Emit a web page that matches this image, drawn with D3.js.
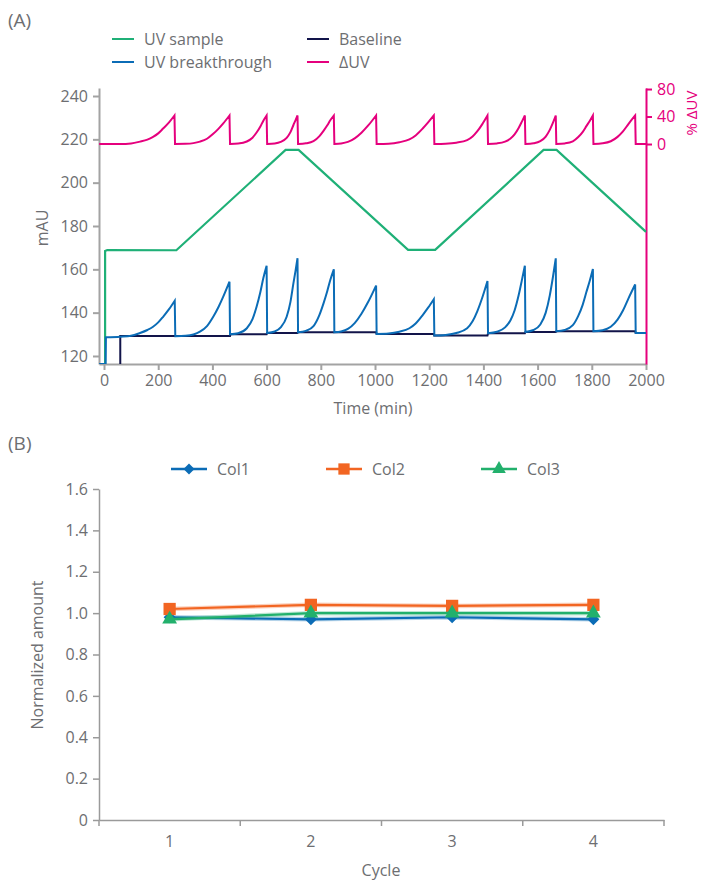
<!DOCTYPE html>
<html>
<head>
<meta charset="utf-8">
<title>UV breakthrough and normalized amount</title>
<script src="https://d3js.org/d3.v7.min.js"></script>
<style>
  body { margin: 0; background: #fff; }
  svg { display: block; font-family: "Open Sans", sans-serif; }
  .axis text { font-size: 16px; fill: #6d6e71; font-family: "Open Sans", sans-serif; }
  .axis path, .axis line { stroke: #a3a3a3; stroke-width: 2; }
  .axisB path, .axisB line { stroke: #9a9a9a; stroke-width: 1.5; }
  .lbl { font-size: 16px; fill: #6d6e71; }
</style>
</head>
<body>
<svg id="chart" width="702" height="880"></svg>
<script>
// ---- panel A data ----
const timeTicks = [0, 200, 400, 600, 800, 1000, 1200, 1400, 1600, 1800, 2000];
const mauTicks = [120, 140, 160, 180, 200, 220, 240];
const deltaTicks = [0, 40, 80];

// [time (min), mAU]
const uvSample = [[4, 116.3], [4, 168.5], [12, 168.9], [267, 168.8], [670, 215.1], [718, 215.1],
  [1122, 169.0], [1222, 169.0], [1622, 215.1], [1670, 215.1], [2000, 177.3]];

const baseline = [[60, 116.3], [60, 129.2], [465, 129.2], [467, 130.0], [600, 130.0], [602, 130.6],
  [714, 130.6], [716, 130.9], [1004, 130.9], [1006, 130.2], [1217, 130.2], [1219, 129.4],
  [1415, 129.4], [1417, 130.5], [1553, 130.5], [1555, 131.1], [1667, 131.1], [1669, 131.4],
  [1960, 131.4], [1962, 130.6], [2000, 130.6]];

// one list per loading cycle, the drop to the next cycle is a straight line
const uvBreakthrough = [
  [[-18, 116.3], [6, 116.3]],
  [[7, 128.6], [60, 128.9], [100, 129.3], [133, 130.6], [160, 132.0], [181, 133.5], [200, 135.5], [218, 138.1], [240, 141.6], [261, 145.5]],
  [[263, 129.1], [300, 129.3], [330, 129.9], [354, 131.2], [380, 133.8], [403, 138.1], [422, 142.5], [440, 147.4], [463, 154.3]],
  [[465, 130.0], [495, 130.5], [527, 132.8], [548, 137.0], [563, 142.7], [577, 149.5], [588, 156.0], [600, 161.6]],
  [[602, 130.6], [630, 131.3], [652, 133.2], [674, 138.1], [688, 145.0], [699, 153.6], [707, 159.5], [714, 165.1]],
  [[716, 130.9], [745, 131.6], [773, 133.8], [795, 139.0], [810, 144.3], [824, 150.0], [835, 155.1], [848, 160.0]],
  [[850, 130.9], [875, 131.3], [900, 132.5], [925, 135.2], [950, 139.5], [975, 145.0], [1004, 152.5]],
  [[1006, 130.2], [1050, 130.4], [1090, 131.2], [1127, 132.8], [1150, 135.0], [1176, 138.9], [1196, 142.3], [1217, 146.2]],
  [[1219, 129.4], [1260, 129.7], [1300, 130.6], [1340, 132.8], [1360, 136.0], [1377, 140.5], [1396, 147.0], [1415, 154.6]],
  [[1417, 130.5], [1450, 131.2], [1480, 133.2], [1500, 136.5], [1515, 141.0], [1530, 148.0], [1542, 155.0], [1553, 161.7]],
  [[1555, 131.1], [1585, 132.0], [1610, 134.5], [1630, 140.0], [1645, 148.0], [1656, 156.0], [1667, 165.1]],
  [[1669, 131.4], [1700, 132.0], [1730, 134.2], [1750, 138.5], [1766, 143.5], [1780, 149.5], [1793, 155.0], [1804, 160.2]],
  [[1806, 131.4], [1840, 131.9], [1870, 133.5], [1895, 136.8], [1915, 141.0], [1935, 146.5], [1960, 153.0]],
  [[1962, 130.6], [2000, 130.6]]
];

// [time (min), % delta UV]
const deltaUv = [
  [[-18, 0], [60, 0], [100, 0.8], [133, 3.5], [160, 6.5], [181, 10.5], [200, 15.5], [218, 22.5], [240, 31.5], [260, 41.5]],
  [[262, 0], [300, 0.3], [330, 1.3], [354, 3.5], [380, 7.7], [403, 14.8], [422, 22.0], [440, 30.0], [463, 41.5]],
  [[465, 0], [495, 0.7], [527, 3.7], [548, 9.2], [563, 16.7], [577, 25.6], [588, 34.0], [600, 41.5]],
  [[602, 0], [630, 0.8], [652, 3.1], [674, 9.0], [688, 17.3], [699, 27.7], [707, 34.8], [714, 41.5]],
  [[716, 0], [745, 1.0], [773, 4.1], [795, 11.5], [810, 19.1], [824, 27.2], [835, 34.5], [848, 41.5]],
  [[850, 0], [875, 0.8], [900, 3.1], [925, 8.3], [950, 16.5], [975, 27.0], [1004, 41.5]],
  [[1006, 0], [1050, 0.5], [1090, 2.6], [1127, 6.7], [1150, 12.5], [1176, 22.5], [1196, 31.4], [1217, 41.5]],
  [[1219, 0], [1260, 0.5], [1300, 2.0], [1340, 5.6], [1360, 10.9], [1377, 18.3], [1396, 29.0], [1415, 41.5]],
  [[1417, 0], [1450, 0.9], [1480, 3.6], [1500, 8.0], [1515, 14.0], [1530, 23.3], [1542, 32.6], [1553, 41.5]],
  [[1555, 0], [1585, 1.1], [1610, 4.2], [1630, 10.9], [1645, 20.6], [1656, 30.4], [1667, 41.5]],
  [[1669, 0], [1700, 0.9], [1730, 4.0], [1750, 10.2], [1766, 17.4], [1780, 26.0], [1793, 34.0], [1804, 41.5]],
  [[1806, 0], [1840, 1.0], [1870, 4.0], [1895, 10.4], [1915, 18.4], [1935, 29.0], [1960, 41.5]],
  [[1962, 0], [2004, 0]]
];

// ---- panel B data ----
const cycles = [1, 2, 3, 4];
const amountTicks = [0, 0.2, 0.4, 0.6, 0.8, 1.0, 1.2, 1.4, 1.6];
const col1 = [0.98, 0.97, 0.98, 0.97];
const col2 = [1.02, 1.04, 1.035, 1.04];
const col3 = [0.97, 1.00, 1.00, 1.00];

const green = "#1fb077", blue = "#0b6cb6", navy = "#12144a", pink = "#e5007d";
const orange = "#f26522", greenB = "#22b06c";
const textGray = "#6d6e71";

const svg = d3.select("#chart");

// panel A
const xA = d3.scaleLinear().domain([-18.5, 2000]).range([99, 646]);
const yA = d3.scaleLinear().domain([116.3, 243.7]).range([364, 88]);
const yR = d3.scaleLinear().domain([-320, 81.5]).range([364, 88]);

svg.append("text").attr("x", 8).attr("y", 27).text("(A)")
  .style("font-size", "19px").attr("fill", textGray);

svg.append("g").attr("class", "axis")
  .attr("transform", "translate(0,364)")
  .call(d3.axisBottom(xA).tickValues(timeTicks).tickFormat(d3.format("d"))
    .tickSize(6).tickSizeOuter(0).tickPadding(5));

svg.append("g").attr("class", "axis")
  .attr("transform", "translate(99,0)")
  .call(d3.axisLeft(yA).tickValues(mauTicks).tickSize(6).tickSizeOuter(0).tickPadding(5));

const right = svg.append("g").attr("class", "axis")
  .attr("transform", "translate(646,0)")
  .call(d3.axisRight(yR).tickValues(deltaTicks).tickSize(6).tickSizeOuter(0).tickPadding(5));
right.selectAll("path, line").style("stroke", pink);
right.selectAll("text").style("fill", pink);

svg.append("text").attr("class", "lbl")
  .attr("transform", "translate(48,228) rotate(-90)")
  .attr("text-anchor", "middle").text("mAU");
svg.append("text").attr("class", "lbl")
  .attr("transform", "translate(697,113) rotate(-90)")
  .attr("text-anchor", "middle").style("fill", pink).style("font-size", "15px").text("% ΔUV");
svg.append("text").attr("class", "lbl")
  .attr("x", 373).attr("y", 414).attr("text-anchor", "middle").text("Time (min)");

svg.append("clipPath").attr("id", "clipA")
  .append("rect").attr("x", 99).attr("y", 86).attr("width", 549).attr("height", 278);

const plotA = svg.append("g").attr("clip-path", "url(#clipA)");

const lineA = d3.line().x(d => xA(d[0])).y(d => yA(d[1]));
function segmentedPath(segs, y) {
  const gen = d3.line().x(d => xA(d[0])).y(d => y(d[1])).curve(d3.curveMonotoneX);
  return segs.map((s, i) => {
    const d = gen(s);
    return i ? d.replace(/^M/, "L") : d;
  }).join("");
}

plotA.append("path").attr("d", segmentedPath(deltaUv, yR))
  .attr("fill", "none").attr("stroke", pink).attr("stroke-width", 2);
plotA.append("path").attr("d", lineA(uvSample))
  .attr("fill", "none").attr("stroke", green).attr("stroke-width", 2.2);
plotA.append("path").attr("d", lineA(baseline))
  .attr("fill", "none").attr("stroke", navy).attr("stroke-width", 2);
plotA.append("path").attr("d", segmentedPath(uvBreakthrough, yA))
  .attr("fill", "none").attr("stroke", blue).attr("stroke-width", 2);

// legend A
const legendA = [
  { name: "UV sample", color: green, x: 112, y: 39 },
  { name: "UV breakthrough", color: blue, x: 112, y: 62 },
  { name: "Baseline", color: navy, x: 307, y: 39 },
  { name: "ΔUV", color: pink, x: 307, y: 62 }
];
const la = svg.append("g").selectAll("g").data(legendA).join("g")
  .attr("transform", d => `translate(${d.x},${d.y})`);
la.append("line").attr("x1", 0).attr("x2", 22).attr("stroke", d => d.color).attr("stroke-width", 2);
la.append("text").attr("class", "lbl").attr("x", 32).attr("dy", "0.35em").text(d => d.name);

// panel B
const xB = d3.scaleBand().domain(cycles).range([99, 664]);
const yB = d3.scaleLinear().domain([0, 1.6]).range([820, 489]);

svg.append("text").attr("x", 8).attr("y", 450).text("(B)")
  .style("font-size", "19px").attr("fill", textGray);

svg.append("g").attr("class", "axis axisB")
  .attr("transform", "translate(99,0)")
  .call(d3.axisLeft(yB).tickValues(amountTicks).tickSize(6).tickSizeOuter(0).tickPadding(5)
    .tickFormat(d => d === 0 ? "0" : d3.format(".1f")(d)));

const xAxisB = svg.append("g").attr("class", "axis axisB")
  .attr("transform", "translate(0,820)")
  .call(d3.axisBottom(xB).tickSize(0).tickSizeOuter(0).tickPadding(16));
xAxisB.selectAll(".tick line").remove();
xAxisB.selectAll("line.edge")
  .data(cycles.map(c => xB(c)).concat([xB(4) + xB.bandwidth()]))
  .join("line").attr("class", "edge")
  .attr("x1", d => d).attr("x2", d => d).attr("y1", 0).attr("y2", 6);

svg.append("text").attr("class", "lbl")
  .attr("transform", "translate(43,655) rotate(-90)")
  .attr("text-anchor", "middle").text("Normalized amount");
svg.append("text").attr("class", "lbl")
  .attr("x", 381).attr("y", 876).attr("text-anchor", "middle").text("Cycle");

const seriesB = [
  { name: "Col1", values: col1, color: blue, symbol: d3.symbolSquare, size: 72, rot: 45, lx: 171 },
  { name: "Col2", values: col2, color: orange, symbol: d3.symbolSquare, size: 150, rot: 0, lx: 326 },
  { name: "Col3", values: col3, color: greenB, symbol: d3.symbolTriangle, size: 95, rot: 0, lx: 481 }
];

const cx = c => xB(c) + xB.bandwidth() / 2;
const lineB = d3.line().x((d, i) => cx(cycles[i])).y(d => yB(d));

seriesB.forEach(s => {
  const g = svg.append("g");
  g.append("path").attr("d", lineB(s.values)).attr("fill", "none")
    .attr("stroke", s.color).attr("stroke-opacity", 0.3).attr("stroke-width", 4.5);
  g.append("path").attr("d", lineB(s.values)).attr("fill", "none")
    .attr("stroke", s.color).attr("stroke-width", 2.2);
  g.selectAll("path.mark").data(s.values).join("path").attr("class", "mark")
    .attr("d", d3.symbol().type(s.symbol).size(s.size))
    .attr("transform", (d, i) => `translate(${cx(cycles[i])},${yB(d)}) rotate(${s.rot})`)
    .attr("fill", s.color);

  // legend entry
  const lg = svg.append("g").attr("transform", `translate(${s.lx},469)`);
  lg.append("line").attr("x1", 0).attr("x2", 36).attr("stroke", s.color).attr("stroke-width", 2.5);
  lg.append("path").attr("d", d3.symbol().type(s.symbol).size(s.size * 0.85))
    .attr("transform", `translate(18,0) rotate(${s.rot})`).attr("fill", s.color);
  lg.append("text").attr("class", "lbl").attr("x", 46).attr("dy", "0.35em").text(s.name);
});
</script>
</body>
</html>
